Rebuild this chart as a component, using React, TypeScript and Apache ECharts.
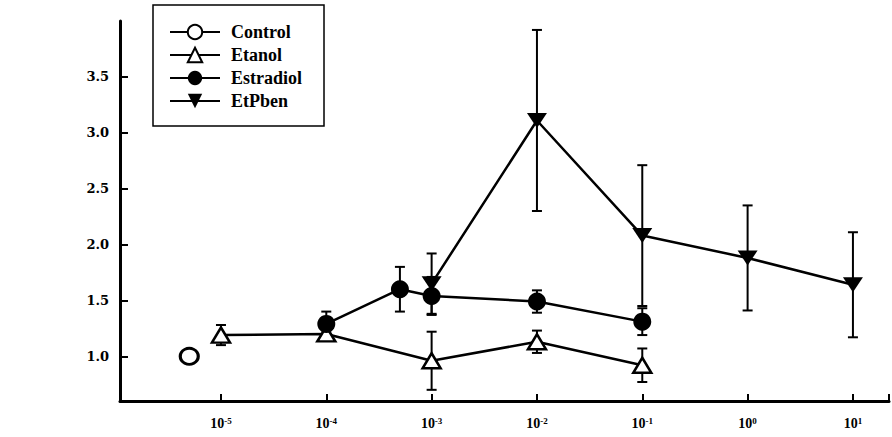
import React, { useEffect, useRef } from "react";
import * as echarts from "echarts";

// Dose (M) and response values, mean ± SEM
const controlDose = [5e-6];
const controlMean = [1.0];

const etanolDose = [1e-5, 1e-4, 1e-3, 1e-2, 1e-1];
const etanolMean = [1.19, 1.2, 0.96, 1.13, 0.92];
const etanolSem = [0.09, 0.03, 0.26, 0.1, 0.15];

const estradiolDose = [1e-4, 5e-4, 1e-3, 1e-2, 1e-1];
const estradiolMean = [1.29, 1.6, 1.54, 1.49, 1.31];
const estradiolSem = [0.11, 0.2, 0.17, 0.1, 0.12];

const etpbenDose = [1e-3, 1e-2, 1e-1, 1, 10];
const etpbenMean = [1.65, 3.11, 2.08, 1.88, 1.64];
const etpbenSem = [0.27, 0.81, 0.63, 0.47, 0.47];

const seriesNames = ["Control", "Etanol", "Estradiol", "EtPben"];
const yTickValues = [1.0, 1.5, 2.0, 2.5, 3.0, 3.5];

const SERIF = "Liberation Serif";
const NUM_FONT = "DejaVu Serif";
const INK = "#000";

function errorBars(name: string, dose: number[], mean: number[], sem: number[]) {
  return {
    type: "custom",
    name,
    z: 1,
    silent: true,
    encode: { x: 0, y: [1, 2] },
    data: dose.map((d, i) => [d, mean[i] - sem[i], mean[i] + sem[i]]),
    renderItem: (_params: any, api: any) => {
      const x = api.value(0);
      const lo = api.coord([x, api.value(1)]);
      const hi = api.coord([x, api.value(2)]);
      const cap = 5;
      const style = { stroke: INK, lineWidth: 2 };
      return {
        type: "group",
        children: [
          { type: "line", shape: { x1: lo[0], y1: lo[1], x2: hi[0], y2: hi[1] }, style },
          { type: "line", shape: { x1: hi[0] - cap, y1: hi[1], x2: hi[0] + cap, y2: hi[1] }, style },
          { type: "line", shape: { x1: lo[0] - cap, y1: lo[1], x2: lo[0] + cap, y2: lo[1] }, style },
        ],
      };
    },
  };
}

function pairs(dose: number[], mean: number[]) {
  return dose.map((d, i) => [d, mean[i]]);
}

export default function App() {
  const ref = useRef<HTMLDivElement>(null);

  useEffect(() => {
    if (!ref.current) return;
    const chart = echarts.init(ref.current, undefined, { renderer: "svg" });

    const lineStyle = { color: INK, width: 2.5 };

    chart.setOption({
      animation: false,
      backgroundColor: "#fff",
      grid: { left: 120, right: -4, top: 21, bottom: 36, containLabel: false },
      legend: {
        data: seriesNames,
        orient: "vertical",
        left: 153,
        top: 5,
        padding: [18, 22, 16, 16],
        itemGap: 5,
        itemWidth: 50,
        itemHeight: 18,
        borderColor: INK,
        borderWidth: 1.5,
        selectedMode: false,
        textStyle: {
          fontFamily: SERIF,
          fontWeight: "bold",
          fontSize: 18,
          lineHeight: 18,
          color: INK,
          padding: [0, 0, 0, 6],
        },
      },
      xAxis: {
        type: "log",
        logBase: 10,
        min: 1.1e-6,
        max: 22,
        axisLine: { show: true, lineStyle: { color: INK, width: 3 } },
        axisTick: { show: true, inside: true, length: 7, lineStyle: { color: INK, width: 2 } },
        splitLine: { show: false },
        axisLabel: {
          margin: 15,
          formatter: (v: number) => {
            const e = Math.log10(v);
            const r = Math.round(e);
            if (Math.abs(e - r) > 1e-6 || r < -5 || r > 1) return "";
            return `{b|10}{s|${r}}`;
          },
          rich: {
            b: { fontFamily: SERIF, fontWeight: "bold", fontSize: 14, color: INK, lineHeight: 14 },
            s: {
              fontFamily: SERIF,
              fontWeight: "bold",
              fontSize: 9,
              color: INK,
              lineHeight: 9,
              verticalAlign: "top",
            },
          },
        },
      },
      yAxis: {
        type: "value",
        min: 0.6,
        max: 4.0,
        axisLine: { show: true, lineStyle: { color: INK, width: 3 } },
        axisTick: {
          show: true,
          inside: true,
          length: 8,
          customValues: yTickValues,
          lineStyle: { color: INK, width: 2 },
        },
        splitLine: { show: false },
        axisLabel: {
          margin: 11,
          customValues: yTickValues,
          fontFamily: NUM_FONT,
          fontWeight: "bold",
          fontSize: 13,
          color: INK,
          formatter: (v: number) =>
            yTickValues.some((t) => Math.abs(t - v) < 1e-9) ? v.toFixed(1) : "",
        },
      },
      series: [
        errorBars("Etanol SEM", etanolDose, etanolMean, etanolSem),
        errorBars("Estradiol SEM", estradiolDose, estradiolMean, estradiolSem),
        errorBars("EtPben SEM", etpbenDose, etpbenMean, etpbenSem),
        {
          type: "line",
          name: "Control",
          z: 3,
          data: pairs(controlDose, controlMean),
          symbol: "circle",
          symbolSize: [18, 16],
          lineStyle,
          itemStyle: { color: "#fff", borderColor: INK, borderWidth: 3 },
        },
        {
          type: "line",
          name: "Etanol",
          z: 3,
          data: pairs(etanolDose, etanolMean),
          symbol: "triangle",
          symbolSize: [18, 15],
          lineStyle,
          itemStyle: { color: "#fff", borderColor: INK, borderWidth: 2.5 },
        },
        {
          type: "line",
          name: "Estradiol",
          z: 4,
          data: pairs(estradiolDose, estradiolMean),
          symbol: "circle",
          symbolSize: 18,
          lineStyle,
          itemStyle: { color: INK, borderColor: INK, borderWidth: 0 },
        },
        {
          type: "line",
          name: "EtPben",
          z: 5,
          data: pairs(etpbenDose, etpbenMean),
          symbol: "triangle",
          symbolRotate: 180,
          symbolSize: [20, 15],
          lineStyle,
          itemStyle: { color: INK, borderColor: INK, borderWidth: 0 },
        },
      ],
    });

    return () => chart.dispose();
  }, []);

  return (
    <div
      ref={ref}
      style={{ position: "fixed", left: 0, top: 0, width: 892, height: 437, background: "#fff" }}
    />
  );
}
